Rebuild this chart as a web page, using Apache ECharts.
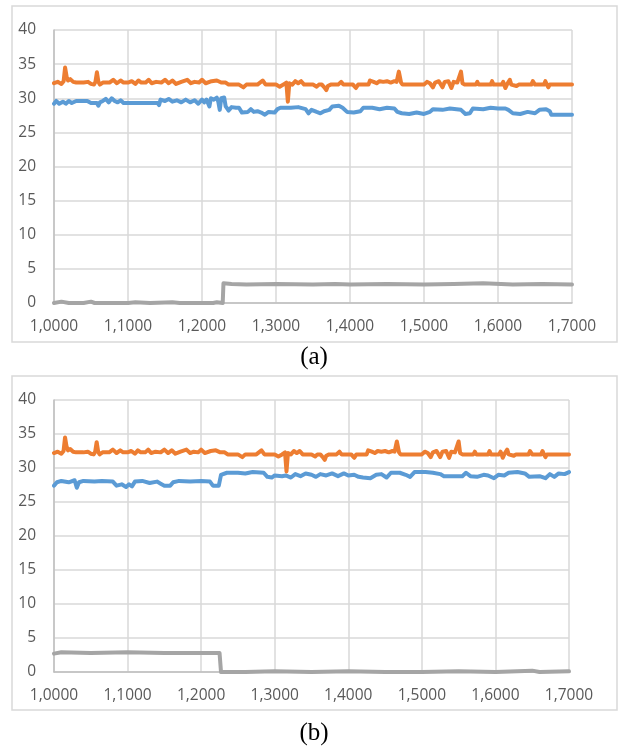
<!DOCTYPE html>
<html>
<head>
<meta charset="utf-8">
<script src="https://cdn.jsdelivr.net/npm/echarts@6/dist/echarts.min.js"></script>
<style>
html,body{margin:0;padding:0;background:#fff;}
#c{width:620px;height:747px;}
</style>
</head>
<body>
<div id="c"></div>
<script>
// ---------- DATA ----------
const xTicks = [1.0, 1.1, 1.2, 1.3, 1.4, 1.5, 1.6, 1.7];
const yTicks = [0, 5, 10, 15, 20, 25, 30, 35, 40];
const panelLabels = ['(a)', '(b)'];

// orange series (same in both panels) [x, y]
const orangeA = [
[1.000,32.2],[1.005,32.4],[1.010,32.1],[1.013,32.5],[1.015,34.5],[1.017,33.2],[1.019,32.6],[1.022,32.8],[1.026,32.4],[1.030,32.3],
[1.040,32.3],[1.046,32.4],[1.050,32.1],[1.054,32.0],[1.056,32.4],[1.058,33.8],[1.060,32.4],[1.062,32.0],[1.066,32.3],[1.075,32.3],
[1.080,32.7],[1.085,32.2],[1.090,32.6],[1.094,32.3],[1.100,32.3],[1.105,32.5],[1.110,32.1],[1.114,32.6],[1.118,32.3],[1.124,32.3],
[1.128,32.7],[1.132,32.2],[1.138,32.4],[1.145,32.3],[1.150,32.7],[1.155,32.2],[1.160,32.6],[1.165,32.1],[1.172,32.4],[1.180,32.7],
[1.185,32.2],[1.190,32.4],[1.196,32.3],[1.200,32.7],[1.205,32.2],[1.213,32.5],[1.220,32.6],[1.226,32.3],[1.232,32.3],[1.236,32.0],
[1.250,32.0],[1.256,31.6],[1.260,32.0],[1.275,32.0],[1.282,32.6],[1.286,32.0],[1.300,32.0],[1.305,31.7],[1.310,32.0],[1.314,32.3],
[1.316,29.5],[1.318,32.2],[1.322,32.0],[1.326,32.5],[1.330,32.2],[1.334,32.5],[1.338,32.0],[1.350,32.0],[1.355,31.7],[1.358,32.0],
[1.362,32.0],[1.366,31.5],[1.368,31.2],[1.370,31.8],[1.374,32.0],[1.384,32.0],[1.388,32.4],[1.391,32.0],[1.404,32.0],[1.408,31.5],
[1.411,32.0],[1.425,32.0],[1.427,32.6],[1.432,32.4],[1.436,32.2],[1.440,32.5],[1.445,32.4],[1.450,32.5],[1.455,32.3],[1.460,32.5],
[1.463,32.4],[1.466,33.9],[1.469,32.3],[1.471,32.0],[1.500,32.0],[1.504,32.4],[1.508,32.2],[1.512,31.6],[1.515,32.3],[1.520,32.5],
[1.525,31.6],[1.528,32.4],[1.533,32.5],[1.537,31.5],[1.540,32.4],[1.545,32.3],[1.550,33.9],[1.552,32.2],[1.555,32.0],[1.570,32.0],
[1.572,32.4],[1.574,32.0],[1.590,32.0],[1.592,32.5],[1.594,32.0],[1.605,32.0],[1.607,32.4],[1.610,31.5],[1.612,32.0],[1.616,32.7],
[1.618,32.0],[1.625,31.8],[1.628,32.0],[1.645,32.0],[1.647,32.5],[1.650,32.0],[1.662,32.0],[1.664,32.5],[1.666,32.0],[1.668,31.6],
[1.670,32.0],[1.700,32.0]
];
const orangeB = orangeA;

const blueA = [
[1.000,29.2],[1.003,29.6],[1.007,29.2],[1.012,29.5],[1.016,29.2],[1.020,29.6],[1.024,29.3],[1.030,29.6],[1.045,29.6],[1.050,29.3],
[1.058,29.3],[1.060,28.9],[1.062,29.4],[1.066,29.6],[1.070,29.9],[1.074,29.4],[1.078,30.0],[1.082,29.6],[1.086,29.4],[1.090,29.7],
[1.094,29.3],[1.100,29.3],[1.140,29.3],[1.142,29.0],[1.144,29.8],[1.150,29.6],[1.155,29.9],[1.160,29.5],[1.166,29.7],[1.172,29.4],
[1.178,29.8],[1.184,29.4],[1.190,29.7],[1.195,29.2],[1.200,29.8],[1.203,29.4],[1.206,29.8],[1.208,29.3],[1.210,28.8],[1.212,30.0],
[1.216,29.8],[1.220,30.1],[1.222,29.5],[1.224,28.3],[1.226,30.0],[1.230,30.1],[1.232,28.8],[1.236,28.2],[1.240,28.7],[1.246,28.6],
[1.250,28.6],[1.254,27.9],[1.262,28.0],[1.266,28.4],[1.270,28.0],[1.275,28.1],[1.280,27.9],[1.285,27.6],[1.290,28.0],[1.298,27.9],
[1.302,28.4],[1.306,28.6],[1.320,28.6],[1.330,28.7],[1.340,28.4],[1.344,27.8],[1.348,28.3],[1.355,28.0],[1.360,27.8],[1.365,28.1],
[1.372,28.3],[1.376,28.8],[1.385,28.9],[1.390,28.6],[1.396,28.0],[1.405,27.9],[1.414,28.1],[1.418,28.6],[1.430,28.6],[1.440,28.4],
[1.450,28.6],[1.460,28.5],[1.464,28.0],[1.470,27.8],[1.480,27.7],[1.490,27.9],[1.500,27.7],[1.508,28.0],[1.512,28.4],[1.525,28.3],
[1.535,28.5],[1.550,28.3],[1.556,27.7],[1.562,27.8],[1.566,28.5],[1.580,28.4],[1.590,28.6],[1.600,28.5],[1.610,28.5],[1.614,28.3],
[1.620,27.8],[1.630,27.7],[1.640,28.0],[1.650,27.8],[1.656,28.3],[1.665,28.4],[1.670,28.1],[1.672,27.6],[1.700,27.6]
];

const grayA = [
[1.000,0.0],[1.010,0.2],[1.020,0.0],[1.040,0.0],[1.050,0.2],[1.055,0.0],[1.100,0.0],[1.110,0.1],[1.130,0.0],[1.160,0.1],
[1.170,0.0],[1.215,0.0],[1.220,0.1],[1.228,0.0],[1.229,2.9],[1.240,2.8],[1.260,2.7],[1.300,2.8],[1.350,2.7],[1.380,2.8],
[1.400,2.7],[1.450,2.8],[1.500,2.7],[1.540,2.8],[1.580,2.9],[1.620,2.7],[1.660,2.8],[1.700,2.7]
];

const blueB = [
[1.000,27.4],[1.004,27.9],[1.010,28.1],[1.020,27.9],[1.028,28.2],[1.031,27.1],[1.034,27.9],[1.040,28.1],[1.055,28.0],[1.065,28.1],
[1.080,28.0],[1.085,27.4],[1.092,27.6],[1.098,27.2],[1.102,27.6],[1.106,27.3],[1.110,28.0],[1.120,28.1],[1.130,27.8],[1.140,28.0],
[1.145,27.7],[1.150,27.4],[1.158,27.4],[1.162,27.9],[1.170,28.1],[1.185,28.0],[1.200,28.1],[1.212,28.0],[1.216,27.4],[1.224,27.4],
[1.227,29.0],[1.235,29.3],[1.250,29.3],[1.260,29.2],[1.270,29.4],[1.285,29.3],[1.290,28.7],[1.296,28.6],[1.300,28.9],[1.310,28.8],
[1.315,28.9],[1.322,28.6],[1.328,29.1],[1.335,28.8],[1.342,29.2],[1.350,29.0],[1.356,28.7],[1.362,29.1],[1.370,28.9],[1.378,29.2],
[1.386,28.8],[1.394,29.2],[1.400,28.9],[1.408,29.0],[1.414,28.7],[1.420,28.6],[1.430,28.5],[1.438,29.0],[1.445,29.1],[1.452,28.6],
[1.458,29.3],[1.470,29.3],[1.478,29.0],[1.484,28.7],[1.490,29.4],[1.505,29.4],[1.515,29.3],[1.525,29.1],[1.530,28.8],[1.545,28.8],
[1.555,28.8],[1.560,29.3],[1.566,28.8],[1.575,28.7],[1.584,29.0],[1.590,28.9],[1.598,28.5],[1.604,29.0],[1.612,28.9],[1.618,29.3],
[1.630,29.4],[1.640,29.2],[1.646,28.7],[1.660,28.8],[1.668,28.5],[1.674,29.1],[1.680,28.7],[1.686,29.2],[1.694,29.1],[1.700,29.4]
];

const grayB = [
[1.000,2.7],[1.010,2.9],[1.050,2.8],[1.100,2.9],[1.150,2.8],[1.200,2.8],[1.225,2.8],[1.227,0.0],[1.260,0.0],[1.300,0.1],
[1.350,0.0],[1.400,0.1],[1.450,0.0],[1.500,0.0],[1.550,0.1],[1.600,0.0],[1.650,0.2],[1.660,0.0],[1.700,0.1]
];

// ---------- CHART ----------
const chart = echarts.init(document.getElementById('c'), null, {renderer: 'canvas'});
const labelFont = {color: '#595959', fontFamily: '"Open Sans", sans-serif', fontSize: 15.5};
const gridLineColor = '#d9d9d9';

function xAxisCfg(idx) {
  return {
    type: 'value', gridIndex: idx,
    min: xTicks[0], max: xTicks[xTicks.length - 1], interval: 0.1,
    axisLine: {show: true, lineStyle: {color: '#bfbfbf', width: 1.5}},
    axisTick: {show: false},
    splitLine: {show: true, lineStyle: {color: gridLineColor, width: 1.5}},
    axisLabel: Object.assign({margin: 16, formatter: v => v.toFixed(4).replace('.', ',')}, labelFont)
  };
}
function yAxisCfg(idx) {
  return {
    type: 'value', gridIndex: idx,
    min: yTicks[0], max: yTicks[yTicks.length - 1], interval: 5,
    axisLine: {show: true, lineStyle: {color: '#bfbfbf', width: 1.5}},
    axisTick: {show: false},
    splitLine: {show: true, lineStyle: {color: gridLineColor, width: 1.5}},
    axisLabel: Object.assign({margin: 18}, labelFont)
  };
}
function lineSeries(data, color, idx, w) {
  return {
    type: 'line', xAxisIndex: idx, yAxisIndex: idx, data: data,
    showSymbol: false, symbol: 'none', silent: true,
    lineStyle: {color: color, width: w, join: 'round', cap: 'round'}
  };
}

chart.setOption({
  animation: false,
  backgroundColor: '#ffffff',
  grid: [
    {left: 54, top: 30, width: 518, height: 273},
    {left: 54, top: 400, width: 515, height: 272}
  ],
  xAxis: [xAxisCfg(0), xAxisCfg(1)],
  yAxis: [yAxisCfg(0), yAxisCfg(1)],
  series: [
    lineSeries(blueA, '#5B9BD5', 0, 4),
    lineSeries(orangeA, '#ED7D31', 0, 4),
    lineSeries(grayA, '#A5A5A5', 0, 4),
    lineSeries(blueB, '#5B9BD5', 1, 4),
    lineSeries(orangeB, '#ED7D31', 1, 4),
    lineSeries(grayB, '#A5A5A5', 1, 4)
  ],
  graphic: [
    {type: 'rect', shape: {x: 12, y: 6, width: 605, height: 336}, style: {fill: 'none', stroke: '#d9d9d9', lineWidth: 1.5}, silent: true, z: -1},
    {type: 'rect', shape: {x: 12, y: 376, width: 605, height: 334}, style: {fill: 'none', stroke: '#d9d9d9', lineWidth: 1.5}, silent: true, z: -1},
    {type: 'text', x: 314, y: 357, style: {text: panelLabels[0], font: '25px "Liberation Serif", serif', fill: '#000', textAlign: 'center', textVerticalAlign: 'middle'}},
    {type: 'text', x: 314, y: 733, style: {text: panelLabels[1], font: '25px "Liberation Serif", serif', fill: '#000', textAlign: 'center', textVerticalAlign: 'middle'}}
  ]
});
</script>
</body>
</html>
